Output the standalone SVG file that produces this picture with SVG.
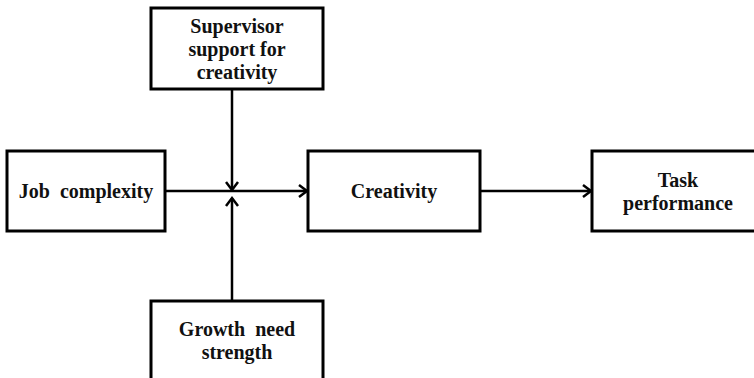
<svg xmlns="http://www.w3.org/2000/svg" width="754" height="378" viewBox="0 0 754 378">
<style>
.box{fill:#fff;stroke:#000;stroke-width:3}
.lbl{font-family:"Liberation Serif","Times New Roman",serif;font-weight:bold;font-size:20px;fill:#111;text-anchor:middle}
.edge{stroke:#000;stroke-width:2.5;fill:none;marker-end:url(#arr)}
</style>
<defs>
<marker id="arr" markerUnits="userSpaceOnUse" markerWidth="14" markerHeight="16" viewBox="-10 -8 12 16" refX="0" refY="0" orient="auto">
<path d="M-8,-6 L0,0 L-8,6" fill="none" stroke="#000" stroke-width="2.5"/>
</marker>
</defs>
<rect width="754" height="378" fill="#fff"/>
<g id="connectors">
<line class="edge" x1="165" y1="191" x2="307" y2="191"/>
<line class="edge" x1="232" y1="89" x2="232" y2="190"/>
<line class="edge" x1="232" y1="301" x2="232" y2="198"/>
<line class="edge" x1="480" y1="191" x2="591" y2="191"/>
</g>
<g id="supervisor">
<rect class="box" x="151" y="8" width="172" height="81"/>
<text class="lbl" x="237" y="33">Supervisor</text>
<text class="lbl" x="237" y="56">support for</text>
<text class="lbl" x="237" y="79">creativity</text>
</g>
<g id="job">
<rect class="box" x="7" y="151" width="158" height="80"/>
<text class="lbl" x="86" y="198" xml:space="preserve">Job  complexity</text>
</g>
<g id="creativity">
<rect class="box" x="308" y="151" width="172" height="80"/>
<text class="lbl" x="394" y="198">Creativity</text>
</g>
<g id="task">
<rect class="box" x="592" y="151" width="172" height="80"/>
<text class="lbl" x="678" y="187">Task</text>
<text class="lbl" x="678" y="210">performance</text>
</g>
<g id="growth">
<rect class="box" x="151" y="301" width="172" height="90"/>
<text class="lbl" x="237" y="336" xml:space="preserve">Growth  need</text>
<text class="lbl" x="237" y="359">strength</text>
</g>
</svg>
